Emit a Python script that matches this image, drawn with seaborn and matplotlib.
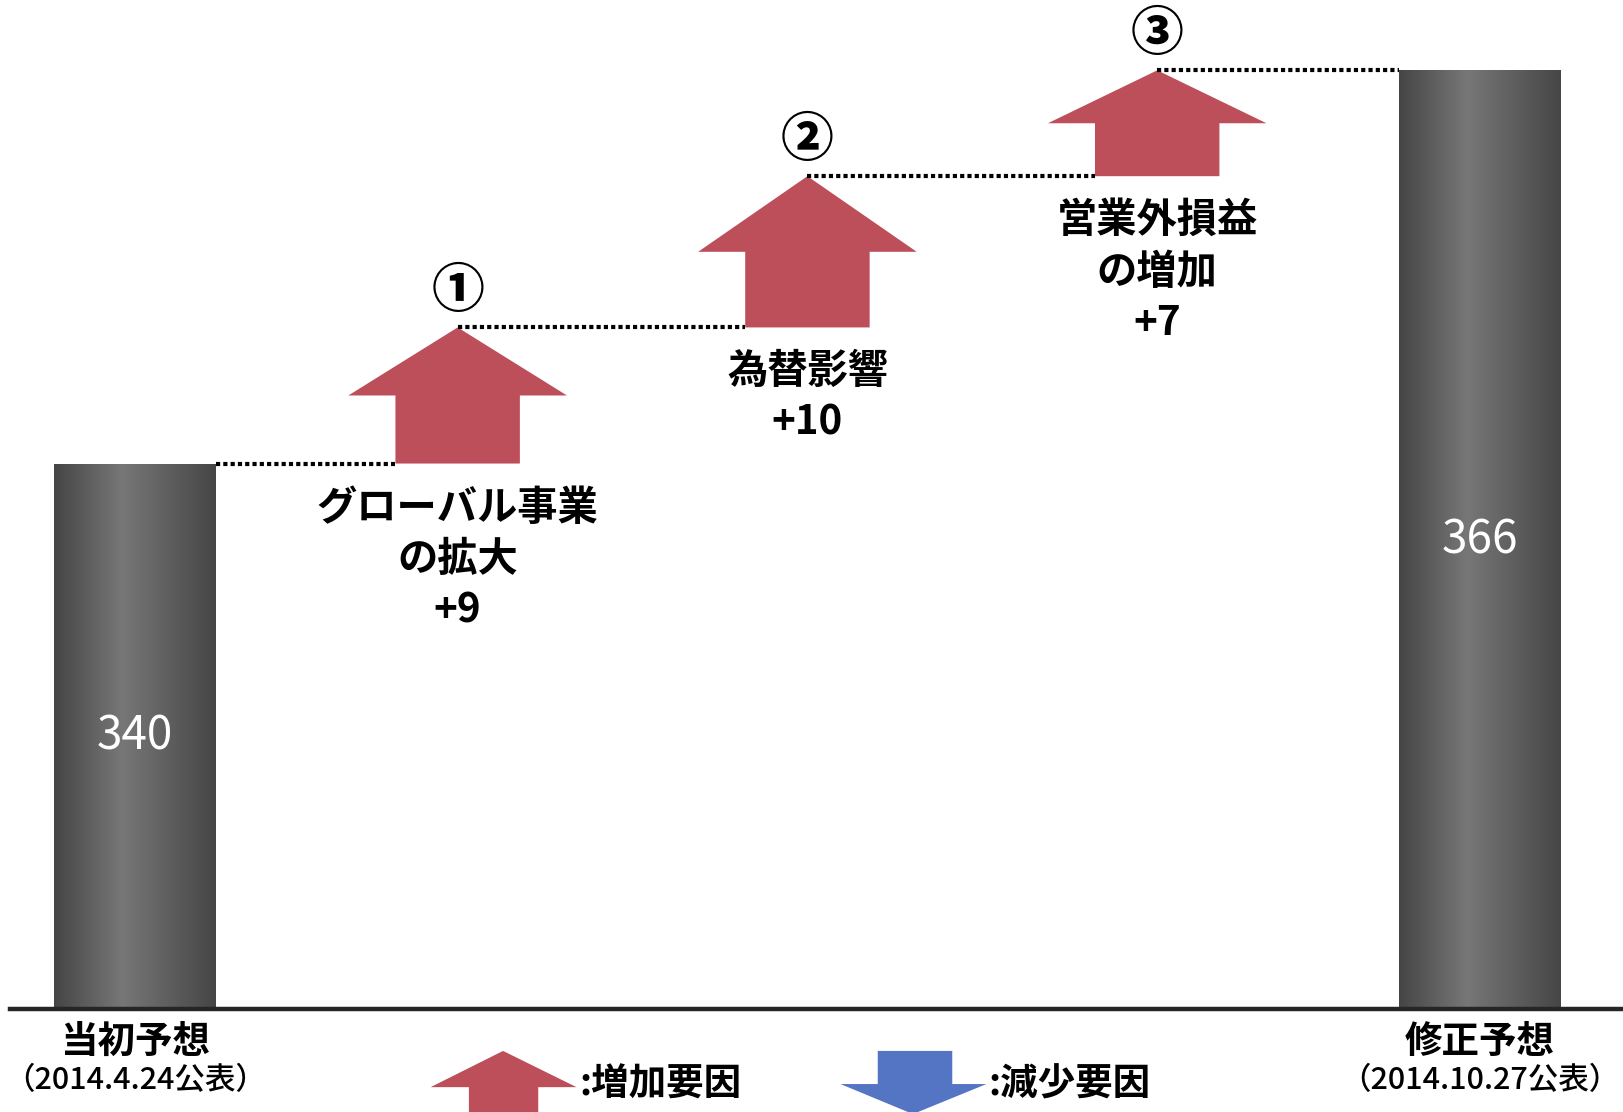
import numpy as np
import pandas as pd
import matplotlib
matplotlib.use("Agg")
import matplotlib.pyplot as plt
from matplotlib.patches import Polygon
from matplotlib.colors import LinearSegmentedColormap
import seaborn as sns

# data
total_names = ["当初予想", "修正予想"]
total_dates = ["（2014.4.24公表）", "（2014.10.27公表）"]
total_values = [340, 366]
factor_names = ["グローバル事業\nの拡大", "為替影響", "営業外損益\nの増加"]
factor_deltas = [9, 10, 7]
step_marks = ["①", "②", "③"]
legend_texts = [":増加要因", ":減少要因"]

RED = "#BC4F5A"
BLUE = "#5474C4"

sns.set_theme(style="white")
plt.rcParams['font.family'] = ['Noto Sans CJK JP', 'DejaVu Sans']
plt.rcParams['text.color'] = 'black'

W, H = 1568, 1074  # layout frame used for placement
fig = plt.figure(figsize=(16.23, 11.12), dpi=100)
ax = fig.add_axes([10 / W, 1 - 975 / H, 1 - 10 / W, 975 / H])

order = [total_names[0]] + factor_names + [total_names[1]]
df_totals = pd.DataFrame({"item": total_names, "value": total_values})
sns.barplot(data=df_totals, x="item", y="value", order=order, width=0.48,
            color="#606060", saturation=1, ax=ax)

ymin, ymax = 303.9, 370.65
xmin, xmax = -0.37, 4.425

# gradient fill on total bars
cmap = LinearSegmentedColormap.from_list(
    "bar", [(0, "#454545"), (0.42, "#777777"), (1, "#464646")])
grad = np.linspace(0, 1, 256).reshape(1, -1)
for p in list(ax.patches):
    x0, w, top = p.get_x(), p.get_width(), p.get_height()
    im = ax.imshow(grad, cmap=cmap, extent=[x0, x0 + w, ymin, top],
                   aspect="auto", zorder=p.get_zorder() + 0.1)
    im.set_clip_path(p)

# value labels inside bars
for i, v in zip([0, 4], total_values):
    ax.text(i, (ymin + v) / 2, str(v), color="white", fontsize=33,
            ha="center", va="center", zorder=5)

# up arrows for each factor
body_w, head_w = 0.37, 0.65
spread = 1.04  # arrows sit slightly wider apart than the category slots
level = total_values[0]
dot_style = dict(color="black", lw=3, ls=(0, (1, 0.75)),
                 dash_capstyle="butt", zorder=4)
xs = [2 + (k - 2) * spread for k in range(1, len(factor_deltas) + 1)]
ax.plot([0 + 0.24, xs[0] - body_w / 2], [level, level], **dot_style)
for i, (name, d, mark) in enumerate(zip(factor_names, factor_deltas, step_marks)):
    x = xs[i]
    y0, y1 = level, level + d
    hy = y0 + 0.5 * d
    verts = [(x - body_w / 2, y0), (x + body_w / 2, y0), (x + body_w / 2, hy),
             (x + head_w / 2, hy), (x, y1), (x - head_w / 2, hy),
             (x - body_w / 2, hy)]
    ax.add_patch(Polygon(verts, closed=True, color=RED, lw=0, zorder=3))
    ax.annotate(mark, (x, y1), xytext=(0, 36), textcoords="offset pixels",
                ha="center", va="center", fontsize=38, fontweight="black")
    ax.annotate(f"{name}\n+{d}", (x, y0), xytext=(0, -24),
                textcoords="offset pixels", ha="center", va="top",
                fontsize=29, fontweight="bold", linespacing=1.33)
    # dotted connector to next element
    end = xs[i + 1] - body_w / 2 if i < len(xs) - 1 else 4 - 0.24
    ax.plot([x, end], [y1, y1], **dot_style)
    level = y1

# bottom category labels
for i, name, date in zip([0, 4], total_names, total_dates):
    ax.annotate(name, (i, 0), xycoords=("data", "axes fraction"),
                xytext=(0, -32), textcoords="offset pixels", ha="center",
                va="center", fontsize=27, fontweight="bold")
    ax.annotate(date, (i, 0), xycoords=("data", "axes fraction"),
                xytext=(0, -71), textcoords="offset pixels", ha="center",
                va="center", fontsize=22, fontweight="medium")


# legend arrows (figure coords)
def fig_pt(x, y):
    return (x / W, 1 - y / H)


up = [fig_pt(453, 1090), fig_pt(520, 1090), fig_pt(520, 1050), fig_pt(557, 1050),
      fig_pt(486, 1015), fig_pt(416, 1050), fig_pt(453, 1050)]
down = [fig_pt(848, 1015), fig_pt(920, 1015), fig_pt(920, 1047), fig_pt(953, 1047),
        fig_pt(882, 1076), fig_pt(812, 1047), fig_pt(848, 1047)]
fig.patches.append(Polygon(up, closed=True, color=RED, lw=0,
                           transform=fig.transFigure, figure=fig))
fig.patches.append(Polygon(down, closed=True, color=BLUE, lw=0,
                           transform=fig.transFigure, figure=fig))
fig.text(560 / W, 1 - 1047 / H, legend_texts[0], fontsize=27,
         fontweight="bold", ha="left", va="center")
fig.text(955 / W, 1 - 1047 / H, legend_texts[1], fontsize=27,
         fontweight="bold", ha="left", va="center")

ax.set_xlim(xmin, xmax)
ax.set_ylim(ymin, ymax)
ax.set_xlabel("")
ax.set_ylabel("")
ax.set_xticks([])
ax.set_yticks([])
for s in ["left", "right", "top"]:
    ax.spines[s].set_visible(False)
ax.spines["bottom"].set_linewidth(3.2)
ax.spines["bottom"].set_color("#262626")
ax.spines["bottom"].set_zorder(6)

fig.savefig("out.png", dpi=100)
